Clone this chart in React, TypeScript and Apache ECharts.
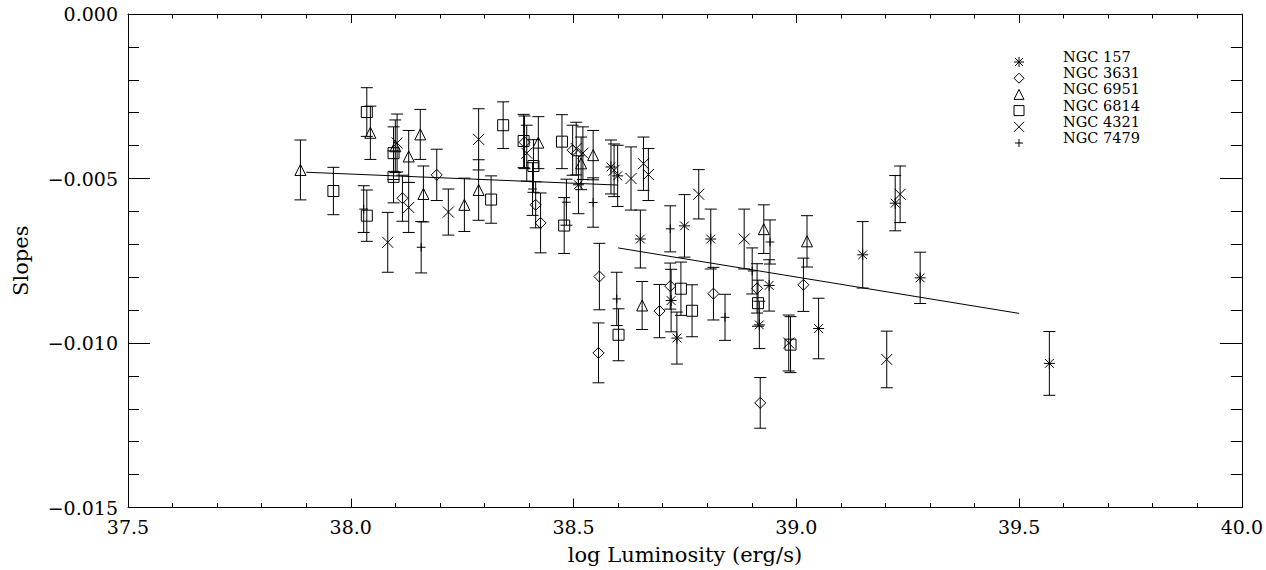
import React, { useEffect, useRef } from 'react';
import * as echarts from 'echarts';

type Pt = [number, number, number]; // [log L, slope, error]

// NGC 157 (asterisk)
const ngc157: Pt[] = [
  [38.511, -0.00519, 0.00088], [38.584, -0.00465, 0.00082], [38.599, -0.00492, 0.00093],
  [38.650, -0.00684, 0.00088], [38.719, -0.00871, 0.00095], [38.732, -0.00985, 0.00079],
  [38.749, -0.00644, 0.00095], [38.808, -0.00684, 0.00091], [38.917, -0.00945, 0.00072],
  [38.939, -0.00825, 0.00078], [39.050, -0.00956, 0.00092], [39.149, -0.00732, 0.00101],
  [39.222, -0.00575, 0.00084], [39.278, -0.00802, 0.00078], [39.568, -0.01062, 0.00097],
];
// NGC 3631 (diamond)
const ngc3631: Pt[] = [
  [38.193, -0.00489, 0.00078], [38.116, -0.00560, 0.00070], [38.390, -0.00390, 0.00080],
  [38.415, -0.00580, 0.00070], [38.426, -0.00635, 0.00091], [38.498, -0.00414, 0.00076],
  [38.558, -0.00798, 0.00101], [38.556, -0.01030, 0.00091], [38.693, -0.00903, 0.00081],
  [38.717, -0.00827, 0.00070], [38.814, -0.00850, 0.00080], [38.912, -0.00834, 0.00075],
  [38.919, -0.01182, 0.00077], [39.016, -0.00823, 0.00081],
];
// NGC 6951 (triangle)
const ngc6951: Pt[] = [
  [37.887, -0.00474, 0.00091], [38.044, -0.00361, 0.00081], [38.100, -0.00402, 0.00080],
  [38.130, -0.00433, 0.00079], [38.156, -0.00366, 0.00076], [38.163, -0.00547, 0.00085],
  [38.255, -0.00580, 0.00081], [38.287, -0.00535, 0.00092], [38.421, -0.00391, 0.00079],
  [38.517, -0.00454, 0.00080], [38.544, -0.00429, 0.00075], [38.654, -0.00886, 0.00073],
  [38.927, -0.00654, 0.00074], [39.024, -0.00691, 0.00078],
];
// NGC 6814 (square)
const ngc6814: Pt[] = [
  [37.961, -0.00538, 0.00072], [38.036, -0.00298, 0.00074], [38.036, -0.00613, 0.00078],
  [38.096, -0.00423, 0.00080], [38.096, -0.00495, 0.00079], [38.315, -0.00564, 0.00072],
  [38.342, -0.00338, 0.00071], [38.388, -0.00386, 0.00081], [38.410, -0.00462, 0.00080],
  [38.474, -0.00388, 0.00082], [38.479, -0.00643, 0.00085], [38.601, -0.00975, 0.00079],
  [38.741, -0.00835, 0.00081], [38.766, -0.00902, 0.00079], [38.914, -0.00879, 0.00070],
  [38.987, -0.01005, 0.00085],
];
// NGC 4321 (cross)
const ngc4321: Pt[] = [
  [38.083, -0.00694, 0.00091], [38.104, -0.00392, 0.00088], [38.130, -0.00588, 0.00076],
  [38.219, -0.00602, 0.00070], [38.287, -0.00381, 0.00093], [38.395, -0.00423, 0.00085],
  [38.506, -0.00409, 0.00080], [38.521, -0.00423, 0.00080], [38.591, -0.00475, 0.00080],
  [38.629, -0.00500, 0.00096], [38.657, -0.00455, 0.00081], [38.668, -0.00488, 0.00079],
  [38.781, -0.00548, 0.00075], [38.883, -0.00684, 0.00091], [38.983, -0.01000, 0.00085],
  [39.203, -0.01050, 0.00086], [39.233, -0.00548, 0.00086],
];
// NGC 7479 (plus)
const ngc7479: Pt[] = [
  [38.029, -0.00593, 0.00071], [38.158, -0.00709, 0.00078], [38.408, -0.00532, 0.00080],
  [38.484, -0.00572, 0.00070], [38.544, -0.00573, 0.00075], [38.597, -0.00866, 0.00081],
  [38.717, -0.00653, 0.00070], [38.840, -0.00922, 0.00070], [38.901, -0.00781, 0.00070],
  [38.941, -0.00693, 0.00067],
];

// Fitted lines
const fitLow: [number, number][] = [[37.9, -0.00481], [38.6, -0.0052]];
const fitHigh: [number, number][] = [[38.6, -0.00711], [39.5, -0.0091]];

const galaxyNames = ['NGC 157', 'NGC 3631', 'NGC 6951', 'NGC 6814', 'NGC 4321', 'NGC 7479'];
const galaxyKinds = ['asterisk', 'diamond', 'triangle', 'square', 'cross', 'plus'];
const galaxyData = [ngc157, ngc3631, ngc6951, ngc6814, ngc4321, ngc7479];

const FONT = '"DejaVu Serif", serif';
const INK = '#000';

function seg(x1: number, y1: number, x2: number, y2: number, w = 1) {
  return { type: 'line', shape: { x1, y1, x2, y2 }, style: { stroke: INK, lineWidth: w, fill: 'none' } };
}

function markerEls(kind: string, cx: number, cy: number, s: number): any[] {
  const st = { stroke: INK, lineWidth: 1, fill: 'none' };
  switch (kind) {
    case 'asterisk': {
      const d = s * 0.8;
      return [
        seg(cx, cy - s, cx, cy + s),
        seg(cx - s, cy, cx + s, cy),
        seg(cx - d, cy - d, cx + d, cy + d),
        seg(cx - d, cy + d, cx + d, cy - d),
      ];
    }
    case 'diamond':
      return [{ type: 'polygon', shape: { points: [[cx, cy - s], [cx + s, cy], [cx, cy + s], [cx - s, cy]] }, style: st }];
    case 'triangle':
      return [{ type: 'polygon', shape: { points: [[cx, cy - s], [cx + s, cy + s], [cx - s, cy + s]] }, style: st }];
    case 'square':
      return [{ type: 'rect', shape: { x: cx - s, y: cy - s, width: 2 * s, height: 2 * s }, style: st }];
    case 'cross':
      return [seg(cx - s, cy - s, cx + s, cy + s), seg(cx - s, cy + s, cx + s, cy - s)];
    case 'plus':
    default:
      return [seg(cx - s * 0.8, cy, cx + s * 0.8, cy), seg(cx, cy - s * 0.8, cx, cy + s * 0.8)];
  }
}

function makeRender(kind: string) {
  return (params: any, api: any) => {
    const x = api.value(0);
    const y = api.value(1);
    const e = api.value(2);
    const p = api.coord([x, y]);
    const t = api.coord([x, y + e]);
    const b = api.coord([x, y - e]);
    const cap = 6;
    return {
      type: 'group',
      children: [
        seg(p[0], t[1], p[0], b[1]),
        seg(p[0] - cap, t[1], p[0] + cap, t[1]),
        seg(p[0] - cap, b[1], p[0] + cap, b[1]),
        ...markerEls(kind, p[0], p[1], 5.5),
      ],
    };
  };
}

function fmtY(v: number) {
  if (Math.abs(v) < 1e-12) return '0.000';
  return (v < 0 ? '\u2212' : '') + Math.abs(v).toFixed(3);
}

export default function App() {
  const ref = useRef<HTMLDivElement>(null);
  useEffect(() => {
    if (!ref.current) return;
    const chart = echarts.init(ref.current, null, { renderer: 'svg' });

    const xBase = {
      type: 'value',
      min: 37.5,
      max: 40,
      interval: 0.5,
      axisLine: { show: true, onZero: false, lineStyle: { color: INK, width: 1 } },
      axisTick: { show: true, inside: true, length: 9, lineStyle: { color: INK, width: 1 } },
      minorTick: { show: true, splitNumber: 5, length: 4.5, lineStyle: { color: INK, width: 1 } },
      splitLine: { show: false },
      minorSplitLine: { show: false },
    };
    const yBase = {
      type: 'value',
      min: -0.015,
      max: 0,
      interval: 0.005,
      axisLine: { show: true, onZero: false, lineStyle: { color: INK, width: 1 } },
      axisTick: { show: true, inside: true, length: 22, lineStyle: { color: INK, width: 1 } },
      minorTick: { show: true, splitNumber: 5, length: 11, lineStyle: { color: INK, width: 1 } },
      splitLine: { show: false },
      minorSplitLine: { show: false },
    };

    const legend: any[] = [];
    galaxyNames.forEach((name, i) => {
      legend.push(...markerEls(galaxyKinds[i], 1019, 62 + 16.2 * i, 5));
      legend.push({
        type: 'text',
        x: 1063,
        y: 57 + 16.2 * i,
        style: { text: name, font: `14.5px ${FONT}`, fill: INK, verticalAlign: 'middle', align: 'left', lineHeight: 15 },
      });
    });

    chart.setOption({
      animation: false,
      backgroundColor: '#fff',
      grid: { left: 128, right: 24, top: 14, bottom: 60.5 },
      xAxis: [
        {
          ...xBase,
          position: 'bottom',
          name: 'log Luminosity (erg/s)',
          nameLocation: 'middle',
          nameGap: 47,
          nameTextStyle: { fontFamily: FONT, fontSize: 21, color: INK, verticalAlign: 'middle' },
          axisLabel: { show: true, margin: 10, fontFamily: FONT, fontSize: 19, color: INK, formatter: (v: number) => v.toFixed(1) },
        },
        { ...xBase, position: 'top', axisLabel: { show: false } },
      ],
      yAxis: [
        {
          ...yBase,
          position: 'left',
          name: 'Slopes',
          nameLocation: 'middle',
          nameGap: 107,
          nameRotate: 90,
          nameTextStyle: { fontFamily: FONT, fontSize: 21, color: INK, verticalAlign: 'middle' },
          axisLabel: { show: true, margin: 10, fontFamily: FONT, fontSize: 19, color: INK, formatter: fmtY },
        },
        { ...yBase, position: 'right', axisLabel: { show: false } },
      ],
      graphic: [{ type: 'group', children: legend }],
      series: [
        ...galaxyData.map((data, i) => ({
          type: 'custom',
          name: galaxyNames[i],
          xAxisIndex: 0,
          yAxisIndex: 0,
          data,
          encode: { x: 0, y: 1 },
          renderItem: makeRender(galaxyKinds[i]),
        })),
        { type: 'line', data: fitLow, symbol: 'none', lineStyle: { color: INK, width: 1 }, xAxisIndex: 0, yAxisIndex: 0 },
        { type: 'line', data: fitHigh, symbol: 'none', lineStyle: { color: INK, width: 1 }, xAxisIndex: 0, yAxisIndex: 0 },
      ],
    });

    return () => chart.dispose();
  }, []);

  return <div ref={ref} style={{ position: 'absolute', left: 0, top: 0, width: 1266, height: 570, background: '#fff' }} />;
}
